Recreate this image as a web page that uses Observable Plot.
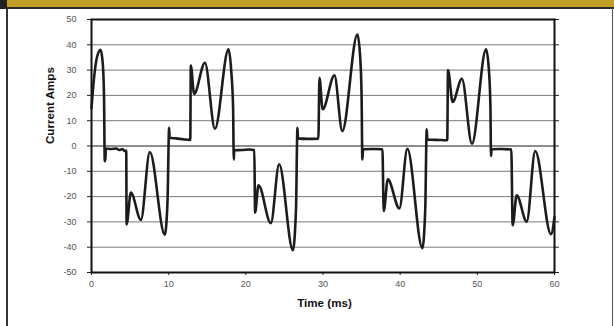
<!DOCTYPE html>
<html><head><meta charset="utf-8">
<script src="https://cdn.jsdelivr.net/npm/d3@7"></script>
<script src="https://cdn.jsdelivr.net/npm/@observablehq/plot@0.6"></script>
<style>
html,body{margin:0;padding:0;background:#fff;}
#wrap{position:relative;width:614px;height:326px;overflow:hidden;background:#fff;}
.deco{position:absolute;}
#chart{position:absolute;left:0;top:0;}
</style></head><body>
<div id="wrap">
<div id="chart"></div>
<div class="deco" style="left:0;top:0;width:614px;height:8px;background:#C49F27"></div>
<div class="deco" style="left:0;top:7px;width:614px;height:2px;background:#2a2a2a"></div>
<div class="deco" style="left:0;top:0;width:7px;height:9px;background:#222"></div>
<div class="deco" style="left:6px;top:8px;width:2px;height:318px;background:#333"></div>
<div class="deco" style="left:612px;top:8px;width:1px;height:318px;background:#555"></div>
</div>
<script>
const xTicks = [0, 10, 20, 30, 40, 50, 60];
const yTicks = [-50, -40, -30, -20, -10, 0, 10, 20, 30, 40, 50];
const xTitle = "Time (ms)";
const yTitle = "Current Amps";

const timeMs = [
  0.0, 0.3, 0.7, 1.17, 1.45, 1.62, 1.72, 1.8, 1.85, 2.5, 3.2, 3.6, 4.0, 4.3, 4.5,
  4.55, 5.1, 6.4, 7.56, 9.5, 9.85, 10.06, 10.12, 11.0, 12.0, 12.8,
  12.87, 13.3, 14.7, 16.0, 17.75, 18.1, 18.35, 18.44, 18.5, 19.5, 20.5, 21.1,
  21.2, 21.64, 23.24, 24.32, 26.1, 26.5, 26.69, 26.76, 28.0, 29.4,
  29.54, 29.95, 31.48, 32.5, 34.46, 34.8, 35.0, 35.1, 35.2, 36.5, 37.7,
  37.87, 38.4, 39.9, 40.93, 42.88, 43.25, 43.44, 43.52, 45.0, 46.1,
  46.2, 46.8, 48.0, 49.3, 51.13, 51.5, 51.7, 51.77, 51.85, 53.0, 54.4,
  54.58, 55.1, 56.4, 57.5, 59.55, 60.0
];
const currentAmps = [
  15, 26, 35, 38, 33, 20, -6, -5, -1, -1.2, -1.0, -1.6, -1.2, -2.0, -1.8,
  -31, -18.4, -29.2, -2.4, -35.1, -22, 7.2, 3.3, 3.0, 2.6, 2.4,
  31.8, 20.6, 32.9, 6.8, 38.2, 30, 15, -5.3, -1.7, -1.6, -1.4, -1.7,
  -26.3, -15.5, -30.5, -7.2, -41.2, -25, 7.2, 3.0, 2.8, 2.9,
  27, 14.5, 27.9, 5.9, 44.1, 36, 20, -5.3, -1.3, -1.2, -1.3,
  -25.7, -13.2, -24.7, -1.1, -40.4, -25, 6.6, 2.6, 2.4, 2.3,
  30, 17.4, 26.6, 0.9, 38.2, 30, 15, -3.9, -1.3, -1.2, -1.4,
  -31.3, -19.5, -29.9, -2, -34.9, -28
];

const points = timeMs.map((t, i) => ({t, v: currentAmps[i]}));
const fmt = d => String(d);

const chart = Plot.plot({
  width: 614,
  height: 326,
  marginLeft: 91,
  marginRight: 60,
  marginTop: 19,
  marginBottom: 54,
  style: {fontFamily: "'Liberation Sans', Arial, sans-serif", fontSize: "9px", background: "transparent", overflow: "visible"},
  x: {domain: [0, 60], label: null},
  y: {domain: [-50, 50], label: null},
  marks: [
    Plot.ruleY(yTicks.filter(d => d !== 0 && d !== 50 && d !== -50), {stroke: "#7a7a7a", strokeWidth: 1}),
    Plot.ruleY([0], {stroke: "#1a1a1a", strokeWidth: 1}),
    Plot.axisY({ticks: yTicks, tickSize: 4, tickPadding: 11, tickFormat: fmt, fill: "#555", stroke: "#222"}),
    Plot.axisY({anchor: "right", ticks: yTicks, tickSize: 4, tickFormat: () => "", stroke: "#222"}),
    Plot.axisX({ticks: xTicks, tickSize: 3, tickPadding: 5, tickFormat: fmt, fill: "#555", stroke: "#222"}),
    Plot.frame({stroke: "#111", strokeWidth: 2}),
    Plot.line(points, {x: "t", y: "v", stroke: "#1c1c1c", strokeWidth: 2.6, curve: "monotone-x"}),
    Plot.text([xTitle], {frameAnchor: "bottom", dy: 34, dx: 1.5, fontWeight: "bold", fontSize: 11.6, fill: "#111"}),
    Plot.text([yTitle], {frameAnchor: "left", dx: -41, dy: -2, rotate: -90, fontWeight: "bold", fontSize: 11.6, fill: "#111"})
  ]
});
document.getElementById("chart").appendChild(chart);
</script>
</body></html>
